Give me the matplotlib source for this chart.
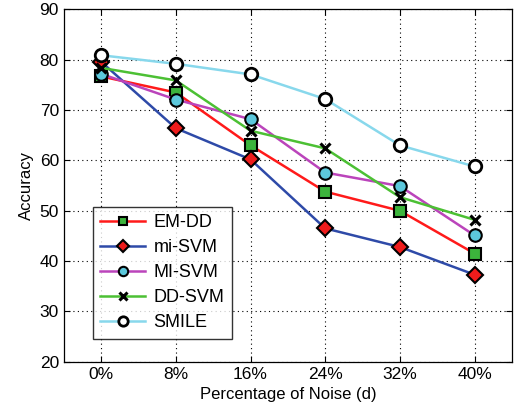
import matplotlib
matplotlib.use("Agg")
import matplotlib.pyplot as plt

plt.rcParams['font.family'] = ['Liberation Sans', 'DejaVu Sans']

categories = ["0%", "8%", "16%", "24%", "32%", "40%"]
em_dd   = [76.7, 73.5, 63.0, 53.8, 50.0, 41.5]
mi_svm  = [79.6, 66.4, 60.2, 46.5, 42.8, 37.3]
MI_svm  = [77.2, 72.1, 68.2, 57.6, 54.9, 45.1]
dd_svm  = [78.4, 75.9, 65.9, 62.4, 52.7, 48.2]
smile   = [80.9, 79.2, 77.1, 72.2, 63.0, 58.8]
yticks = [20, 30, 40, 50, 60, 70, 80, 90]

fig = plt.figure(figsize=(5.15, 4.12), dpi=100)
ax = fig.add_axes([0.124, 0.122, 0.870, 0.855])
x = list(range(len(categories)))

lw = 1.8
ax.plot(x, em_dd, color='#ff1a1a', lw=lw, marker='s', ms=8, mfc='#3cb43c', mec='black', mew=1.5, label='EM-DD', zorder=3)
ax.plot(x, mi_svm, color='#2e4aa8', lw=lw, marker='D', ms=8, mfc='#ee1c1c', mec='black', mew=1.5, label='mi-SVM', zorder=3)
ax.plot(x, MI_svm, color='#bb44bb', lw=lw, marker='o', ms=9, mfc='#5cc8dc', mec='black', mew=1.5, label='MI-SVM', zorder=3)
ax.plot(x, dd_svm, color='#4cc034', lw=lw, marker='x', ms=7, mfc='black', mec='black', mew=2.2, label='DD-SVM', zorder=3)
ax.plot(x, smile, color='#88d8ec', lw=lw, marker='o', ms=9, mfc='white', mec='black', mew=2.0, label='SMILE', zorder=3)

ax.set_xlim(-0.5, 5.5)
ax.set_ylim(20, 90)
ax.set_xticks(x)
ax.set_xticklabels(categories)
ax.set_yticks(yticks)
ax.tick_params(labelsize=12.5, direction='in', length=4, width=0.8, top=True, right=True)
ax.grid(True, linestyle=(0, (1, 3)), color='black', lw=0.8)
for s in ax.spines.values():
    s.set_linewidth(0.9)
ax.set_xlabel('Percentage of Noise (d)', fontsize=12)
ax.set_ylabel('Accuracy', fontsize=12)

leg = ax.legend(loc='lower left', bbox_to_anchor=(0.045, 0.04), fontsize=13, frameon=True, fancybox=False,
                edgecolor='black', handlelength=2.5, borderpad=0.4, labelspacing=0.45, handletextpad=0.45,
                markerscale=0.75)
leg.get_frame().set_linewidth(1.0)

fig.savefig('out.png', dpi=100)
